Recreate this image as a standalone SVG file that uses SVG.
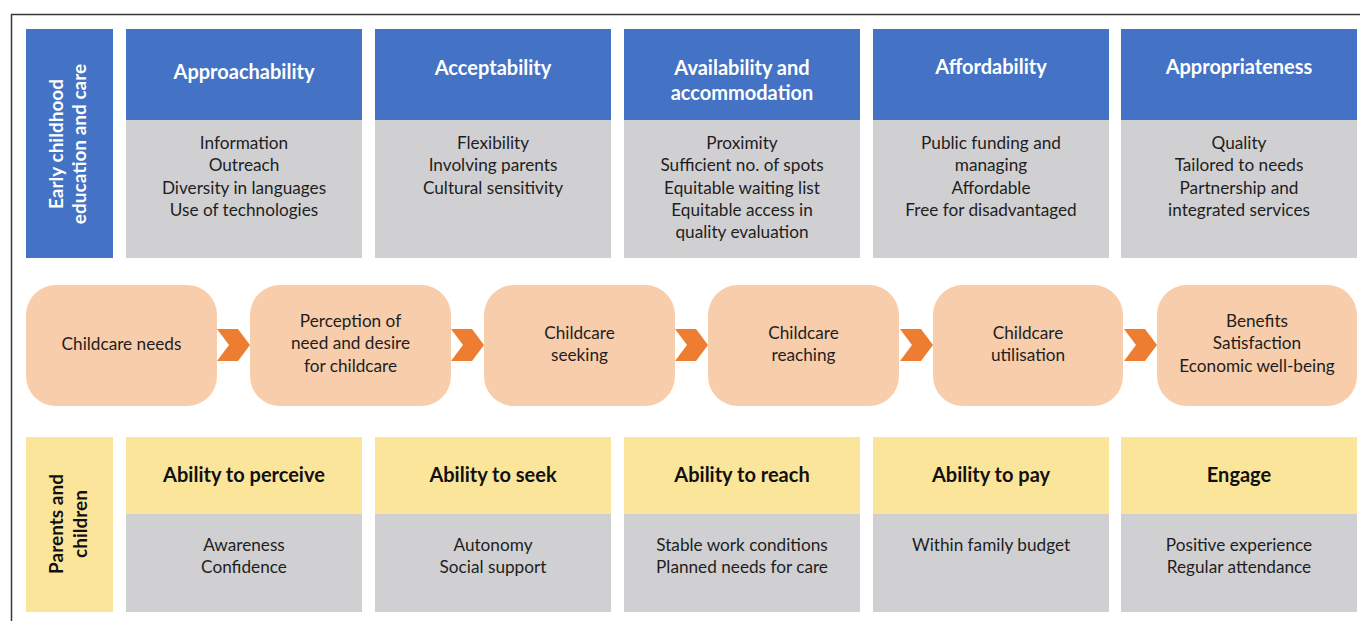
<svg xmlns="http://www.w3.org/2000/svg" width="1360" height="621" viewBox="0 0 1360 621">
<style>
text{font-family:Lato,"Liberation Sans",sans-serif;text-anchor:middle}
.blue{fill:#4472C4}
.gray{fill:#D0D0D2}
.yel{fill:#FBE59B}
.peach{fill:#F8CDAB}
.chev{fill:#ED7D31}
.th{font-size:20px;font-weight:bold;fill:#FFFFFF}
.yh{font-size:20px;font-weight:bold;fill:#111111}
.b{font-size:17.2px;fill:#1E1E1E}
.vl{font-size:19px;font-weight:bold}
</style>
<rect width="1360" height="621" fill="#FFFFFF"/>
<path d="M11.5,621 V14.5 H1360" fill="none" stroke="#3A3A3A" stroke-width="1.5"/>

<g id="label-ecec">
<rect class="blue" x="26" y="29" width="87" height="229"/>
<text class="vl" fill="#FFFFFF" transform="translate(63,144) rotate(-90)">Early childhood</text>
<text class="vl" fill="#FFFFFF" transform="translate(86,144) rotate(-90)">education and care</text>
</g>

<g id="approachability">
<rect class="blue" x="126" y="29" width="236" height="91"/>
<rect class="gray" x="126" y="120" width="236" height="138"/>
<text class="th" x="244" y="79">Approachability</text>
<text class="b" x="244" y="149">Information</text>
<text class="b" x="244" y="171">Outreach</text>
<text class="b" x="244" y="193.5">Diversity in languages</text>
<text class="b" x="244" y="216">Use of technologies</text>
</g>

<g id="acceptability">
<rect class="blue" x="375" y="29" width="236" height="91"/>
<rect class="gray" x="375" y="120" width="236" height="138"/>
<text class="th" x="493" y="75">Acceptability</text>
<text class="b" x="493" y="149">Flexibility</text>
<text class="b" x="493" y="171">Involving parents</text>
<text class="b" x="493" y="193.5">Cultural sensitivity</text>
</g>

<g id="availability">
<rect class="blue" x="624" y="29" width="236" height="91"/>
<rect class="gray" x="624" y="120" width="236" height="138"/>
<text class="th" x="742" y="75">Availability and</text>
<text class="th" x="742" y="100">accommodation</text>
<text class="b" x="742" y="149">Proximity</text>
<text class="b" x="742" y="171">Sufficient no. of spots</text>
<text class="b" x="742" y="193.5">Equitable waiting list</text>
<text class="b" x="742" y="216">Equitable access in</text>
<text class="b" x="742" y="238">quality evaluation</text>
</g>

<g id="affordability">
<rect class="blue" x="873" y="29" width="236" height="91"/>
<rect class="gray" x="873" y="120" width="236" height="138"/>
<text class="th" x="991" y="74">Affordability</text>
<text class="b" x="991" y="149">Public funding and</text>
<text class="b" x="991" y="171">managing</text>
<text class="b" x="991" y="193.5">Affordable</text>
<text class="b" x="991" y="216">Free for disadvantaged</text>
</g>

<g id="appropriateness">
<rect class="blue" x="1121" y="29" width="236" height="91"/>
<rect class="gray" x="1121" y="120" width="236" height="138"/>
<text class="th" x="1239" y="74">Appropriateness</text>
<text class="b" x="1239" y="149">Quality</text>
<text class="b" x="1239" y="171">Tailored to needs</text>
<text class="b" x="1239" y="193.5">Partnership and</text>
<text class="b" x="1239" y="216">integrated services</text>
</g>

<g id="childcare-needs">
<rect class="peach" x="26" y="285" width="191" height="121" rx="30"/>
<text class="b" x="121.5" y="350">Childcare needs</text>
</g>
<g id="perception">
<rect class="peach" x="250" y="285" width="201" height="121" rx="30"/>
<text class="b" x="350.5" y="327">Perception of</text>
<text class="b" x="350.5" y="349">need and desire</text>
<text class="b" x="350.5" y="372">for childcare</text>
</g>
<g id="seeking">
<rect class="peach" x="484" y="285" width="191" height="121" rx="30"/>
<text class="b" x="579.5" y="339">Childcare</text>
<text class="b" x="579.5" y="361">seeking</text>
</g>
<g id="reaching">
<rect class="peach" x="708" y="285" width="191" height="121" rx="30"/>
<text class="b" x="803.5" y="339">Childcare</text>
<text class="b" x="803.5" y="361">reaching</text>
</g>
<g id="utilisation">
<rect class="peach" x="933" y="285" width="190" height="121" rx="30"/>
<text class="b" x="1028" y="339">Childcare</text>
<text class="b" x="1028" y="361">utilisation</text>
</g>
<g id="benefits">
<rect class="peach" x="1157" y="285" width="200" height="121" rx="30"/>
<text class="b" x="1257" y="327">Benefits</text>
<text class="b" x="1257" y="349">Satisfaction</text>
<text class="b" x="1257" y="372">Economic well-being</text>
</g>

<g id="connectors">
<polygon class="chev" points="217,329 238,329 250,345 238,361 217,361 229,345"/>
<polygon class="chev" points="451,329 472,329 484,345 472,361 451,361 463,345"/>
<polygon class="chev" points="675,329 696,329 708,345 696,361 675,361 687,345"/>
<polygon class="chev" points="900,329 921,329 933,345 921,361 900,361 912,345"/>
<polygon class="chev" points="1124,329 1145,329 1157,345 1145,361 1124,361 1136,345"/>
</g>

<g id="label-parents">
<rect class="yel" x="26" y="437" width="87" height="175"/>
<text class="vl" fill="#111111" transform="translate(63,524) rotate(-90)">Parents and</text>
<text class="vl" fill="#111111" transform="translate(87,524) rotate(-90)">children</text>
</g>

<g id="perceive">
<rect class="yel" x="126" y="437" width="236" height="77"/>
<rect class="gray" x="126" y="514" width="236" height="98"/>
<text class="yh" x="244" y="482">Ability to perceive</text>
<text class="b" x="244" y="551">Awareness</text>
<text class="b" x="244" y="573">Confidence</text>
</g>
<g id="seek">
<rect class="yel" x="375" y="437" width="236" height="77"/>
<rect class="gray" x="375" y="514" width="236" height="98"/>
<text class="yh" x="493" y="482">Ability to seek</text>
<text class="b" x="493" y="551">Autonomy</text>
<text class="b" x="493" y="573">Social support</text>
</g>
<g id="reach">
<rect class="yel" x="624" y="437" width="236" height="77"/>
<rect class="gray" x="624" y="514" width="236" height="98"/>
<text class="yh" x="742" y="482">Ability to reach</text>
<text class="b" x="742" y="551">Stable work conditions</text>
<text class="b" x="742" y="573">Planned needs for care</text>
</g>
<g id="pay">
<rect class="yel" x="873" y="437" width="236" height="77"/>
<rect class="gray" x="873" y="514" width="236" height="98"/>
<text class="yh" x="991" y="482">Ability to pay</text>
<text class="b" x="991" y="551">Within family budget</text>
</g>
<g id="engage">
<rect class="yel" x="1121" y="437" width="236" height="77"/>
<rect class="gray" x="1121" y="514" width="236" height="98"/>
<text class="yh" x="1239" y="482">Engage</text>
<text class="b" x="1239" y="551">Positive experience</text>
<text class="b" x="1239" y="573">Regular attendance</text>
</g>
</svg>
